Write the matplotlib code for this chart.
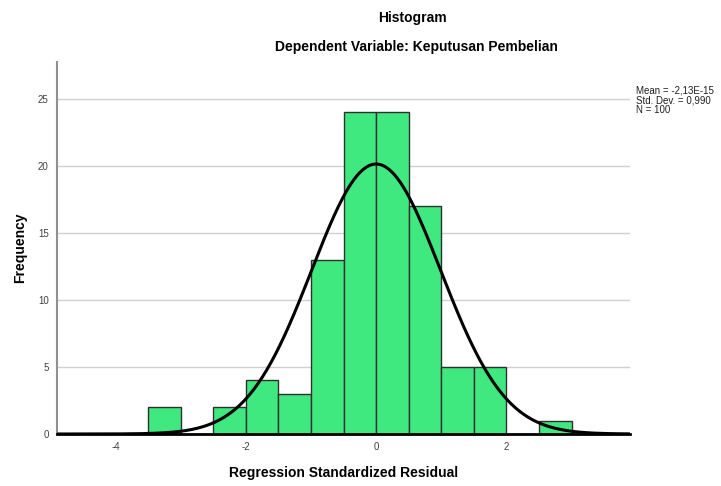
import numpy as np
import matplotlib
matplotlib.use('Agg')
import matplotlib.pyplot as plt

plt.rcParams['font.family'] = ['Liberation Sans', 'DejaVu Sans']
plt.rcParams['axes.unicode_minus'] = False

# histogram data (bin left edges, width 0.5)
bin_left = [-3.5, -2.5, -2.0, -1.5, -1.0, -0.5, 0.0, 0.5, 1.0, 1.5, 2.5]
counts = [2, 2, 4, 3, 13, 24, 24, 17, 5, 5, 1]
bin_width = 0.5

mean = -2.13e-15
std = 0.990
n = 100

fig = plt.figure(figsize=(7.21, 4.86), dpi=100)
ax = fig.add_axes([0.079, 0.107, 0.795, 0.765])

# grid lines
ax.set_axisbelow(True)
ax.yaxis.grid(True, color='#d0d0d0', linewidth=1)

ax.bar(bin_left, counts, width=bin_width, align='edge',
       color='#40e880', edgecolor='#303030', linewidth=1.0, zorder=2)

# normal curve
xs = np.linspace(-4.9, 3.9, 400)
ys = n * bin_width / (std * np.sqrt(2 * np.pi)) * np.exp(-0.5 * ((xs - mean) / std) ** 2)
ax.plot(xs, ys, color='black', linewidth=2.2, zorder=3)

ax.set_xlim(-4.9, 3.9)
ax.set_ylim(0, 27.75)
ax.set_xticks([-4, -2, 0, 2])
ax.set_yticks([0, 5, 10, 15, 20, 25])
ax.tick_params(length=0, labelsize=7, labelcolor='#404040', pad=6)

for s in ['top', 'right']:
    ax.spines[s].set_visible(False)
ax.spines['left'].set_color('#909090')
ax.spines['left'].set_linewidth(1.5)
ax.spines['bottom'].set_color('black')
ax.spines['bottom'].set_linewidth(2)

ax.set_xlabel('Regression Standardized Residual', fontsize=10, fontweight='bold', labelpad=10)
ax.set_ylabel('Frequency', fontsize=10, fontweight='bold', labelpad=8)

fig.text(0.572, 0.963, 'Histogram', ha='center', va='center', fontsize=10, fontweight='bold')
fig.text(0.578, 0.903, 'Dependent Variable: Keputusan Pembelian', ha='center', va='center',
         fontsize=10, fontweight='bold')

fig.text(0.882, 0.794, 'Mean = -2,13E-15\nStd. Dev. = 0,990\nN = 100', ha='left', va='center',
         fontsize=7, linespacing=1.0, color='#202020')

fig.savefig('out.png', dpi=100)
